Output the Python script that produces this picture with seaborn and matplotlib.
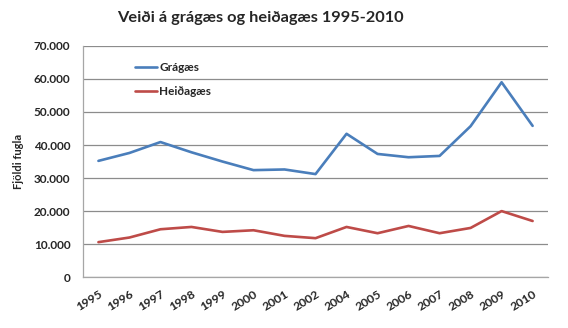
import matplotlib
matplotlib.use("Agg")
import matplotlib.pyplot as plt
import seaborn as sns
import pandas as pd
from matplotlib.ticker import FuncFormatter

years = ["1995", "1996", "1997", "1998", "1999", "2000", "2001", "2002",
         "2004", "2005", "2006", "2007", "2008", "2009", "2010"]
gragaes = [35200, 37600, 40900, 37800, 35000, 32400, 32600, 31200,
           43400, 37300, 36300, 36700, 45700, 59000, 45800]
heidagaes = [10600, 12000, 14500, 15200, 13700, 14200, 12500, 11800,
             15200, 13300, 15500, 13300, 14900, 20000, 17000]
series_names = ["Grágæs", "Heiðagæs"]
colors = ["#4A7EBB", "#BE4B48"]

df = pd.concat([
    pd.DataFrame({"Ár": years, "Fjöldi": gragaes, "Tegund": series_names[0]}),
    pd.DataFrame({"Ár": years, "Fjöldi": heidagaes, "Tegund": series_names[1]}),
])

sns.set_theme(style="white")
plt.rcParams["font.family"] = ["Lato", "DejaVu Sans"]

fig = plt.figure(figsize=(5.68, 3.28), dpi=100)
ax = fig.add_axes([0.146, 0.155, 0.819, 0.705])

sns.lineplot(data=df, x="Ár", y="Fjöldi", hue="Tegund", palette=colors,
             sort=False, linewidth=1.9, ax=ax, legend=True)

ax.set_xlim(-0.5, len(years) - 0.5)
ax.set_ylim(0, 70000)
ax.set_yticks(range(0, 70001, 10000))
ax.yaxis.set_major_formatter(FuncFormatter(lambda v, p: f"{int(v):,}".replace(",", ".")))
ax.grid(axis="y", color="#8c8c8c", linewidth=0.9)
ax.set_axisbelow(True)

for s in ["top", "right"]:
    ax.spines[s].set_visible(False)
for s in ["left", "bottom"]:
    ax.spines[s].set_color("#a6a6a6")
    ax.spines[s].set_linewidth(0.9)

ax.tick_params(axis="y", labelsize=8.5, pad=9, length=0)
ax.tick_params(axis="x", labelsize=8.8, pad=8, length=0)
for lbl in ax.get_yticklabels():
    lbl.set_fontweight("bold")
for lbl in ax.get_xticklabels():
    lbl.set_fontweight("bold")
    lbl.set_rotation(32)
    lbl.set_ha("right")
    lbl.set_rotation_mode("anchor")

ax.set_xlabel("")
ax.set_ylabel("Fjöldi fugla", fontsize=8, fontweight="bold", labelpad=7)

leg = ax.legend(loc="upper left", bbox_to_anchor=(0.09, 0.975), frameon=False,
                fontsize=8.5, handlelength=1.8, handletextpad=0.2, labelspacing=1.05)
for t in leg.get_texts():
    t.set_fontweight("bold")

fig.suptitle("Veiði á grágæs og heiðagæs 1995-2010", x=0.458, y=0.965,
             fontsize=11.8, fontweight="bold")

fig.savefig("out.png", dpi=100, facecolor="white")
